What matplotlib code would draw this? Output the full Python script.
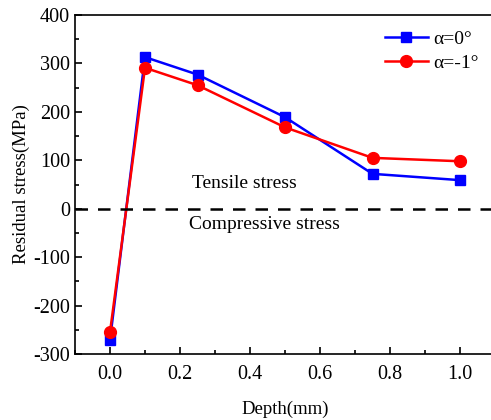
import matplotlib
matplotlib.use("Agg")
import matplotlib.pyplot as plt
from matplotlib.ticker import MultipleLocator

depth = [0.0, 0.1, 0.25, 0.5, 0.75, 1.0]
stress_a0 = [-271, 313, 277, 189, 72, 59]
stress_a1 = [-255, 291, 255, 168, 105, 98]
labels = ["α=0°", "α=-1°"]

plt.rcParams['font.family'] = ['Liberation Serif', 'DejaVu Serif']
plt.rcParams['axes.unicode_minus'] = False

fig = plt.figure(figsize=(4.91, 4.2), dpi=100)
ax = fig.add_axes([75/491, 66/420, 420/491, 339/420])

ax.plot(depth, stress_a0, color='#0000ff', marker='s', markersize=7.5, lw=1.8, label=labels[0])
ax.plot(depth, stress_a1, color='#ff0000', marker='o', markersize=8.5, lw=1.8, label=labels[1])
ax.axhline(0, color='black', ls=(0, (5, 4)), lw=1.8)

ax.text(0.385, 52, "Tensile stress", fontsize=14, ha='center', va='center')
ax.text(0.44, -33, "Compressive stress", fontsize=14, ha='center', va='center')

ax.set_xlim(-0.1, 1.1)
ax.set_ylim(-300, 400)
ax.xaxis.set_major_locator(MultipleLocator(0.2))
ax.xaxis.set_minor_locator(MultipleLocator(0.1))
ax.yaxis.set_major_locator(MultipleLocator(100))
ax.yaxis.set_minor_locator(MultipleLocator(50))
ax.xaxis.set_major_formatter(matplotlib.ticker.FormatStrFormatter('%.1f'))
ax.tick_params(which='both', direction='in', labelsize=14.5, width=1.2)
ax.tick_params(which='major', length=5)
ax.tick_params(which='minor', length=3)
ax.tick_params(axis='x', pad=8)
for s in ax.spines.values():
    s.set_linewidth(1.2)

ax.set_xlabel("Depth(mm)", fontsize=13.5, labelpad=12)
ax.set_ylabel("Residual stress(MPa)", fontsize=13.5, labelpad=2)

ax.legend(loc='upper right', bbox_to_anchor=(0.99, 0.99), frameon=False, fontsize=14,
          handlelength=2.2, handletextpad=0.3, borderaxespad=0.2, labelspacing=0.35)

fig.savefig("out.png", dpi=100)
